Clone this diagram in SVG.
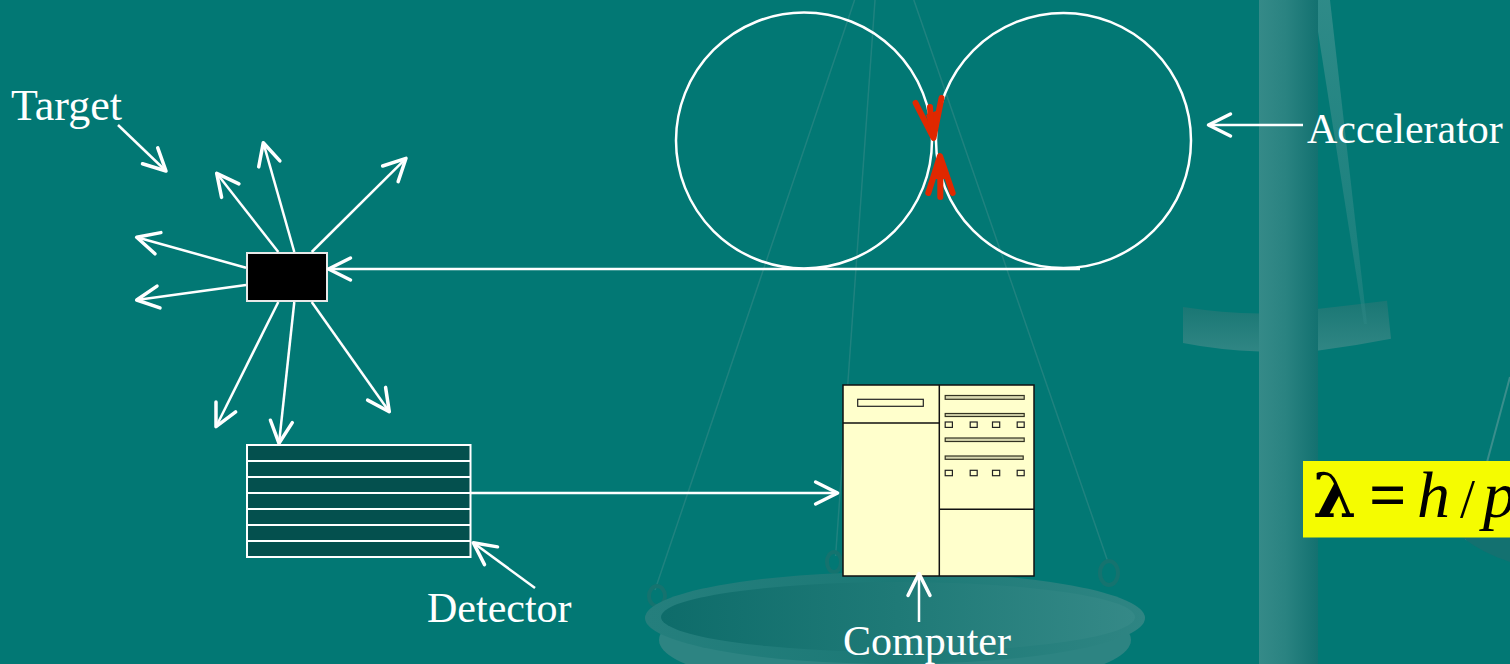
<svg xmlns="http://www.w3.org/2000/svg" width="1510" height="664" viewBox="0 0 1510 664">
  <style>
    .lbl { font-family: "Liberation Serif", "Times New Roman", serif; font-size: 42px; fill: #ffffff; }
    .ring { fill: none; stroke: #ffffff; stroke-width: 2.5; }
    .wire { fill: none; stroke: #ffffff; stroke-width: 2.5; }
    .red { fill: none; stroke: #e02800; stroke-width: 6; stroke-linecap: round; stroke-linejoin: round; }
    .rope { fill: none; stroke: #2a8683; stroke-opacity: 0.75; stroke-width: 1.5; }
    .hook { fill: none; stroke: #15736f; stroke-width: 4; }
    .pc { fill: #ffffcc; stroke: #111111; stroke-width: 1.5; }
    .pcline { stroke: #111111; stroke-width: 1.5; }
    .bar { fill: #d8d8b0; stroke: #333322; stroke-width: 1.2; }
    .key { fill: #ffffcc; stroke: #222222; stroke-width: 1.2; }
    .math { font-family: "Liberation Serif", "Times New Roman", serif; font-size: 66px; fill: #000000; }
  </style>
  <defs>
    <marker id="ah" markerUnits="userSpaceOnUse" markerWidth="40" markerHeight="40" viewBox="-30 -20 40 40" refX="0" refY="0" orient="auto" overflow="visible">
      <path d="M-22,-11 L0,0 L-22,11" fill="none" stroke="#ffffff" stroke-width="3.5" stroke-linecap="round" stroke-linejoin="round"/>
    </marker>
    <linearGradient id="pillarG" x1="0" y1="0" x2="1" y2="0">
      <stop offset="0" stop-color="#358a88"/>
      <stop offset="0.45" stop-color="#2a8381"/>
      <stop offset="1" stop-color="#137170"/>
    </linearGradient>
    <linearGradient id="beamG" x1="0" y1="0" x2="0" y2="1">
      <stop offset="0" stop-color="#1a7774"/>
      <stop offset="1" stop-color="#308684"/>
    </linearGradient>
    <linearGradient id="ropeG" x1="0" y1="0" x2="0" y2="1">
      <stop offset="0" stop-color="#3a8f8d" stop-opacity="0.8"/>
      <stop offset="1" stop-color="#2c8684" stop-opacity="0.5"/>
    </linearGradient>
    <linearGradient id="panInner" x1="0" y1="0" x2="1" y2="0">
      <stop offset="0" stop-color="#0e6c6a"/>
      <stop offset="0.5" stop-color="#1f7a77"/>
      <stop offset="1" stop-color="#358987"/>
    </linearGradient>
    <linearGradient id="panRim" x1="0" y1="0" x2="1" y2="0">
      <stop offset="0" stop-color="#257f7d"/>
      <stop offset="0.5" stop-color="#1c7976"/>
      <stop offset="1" stop-color="#2f8583"/>
    </linearGradient>
  </defs>

  <!-- backdrop: teal field with a faint balance scale -->
  <g id="backdrop">
    <rect x="0" y="0" width="1510" height="664" fill="#027874"/>
    <!-- hanging cords of the left pan -->
    <line class="rope" x1="854.6" y1="0" x2="655" y2="590"/>
    <line class="rope" x1="875" y1="0" x2="835.6" y2="556"/>
    <line class="rope" x1="913.8" y1="0" x2="1108" y2="562"/>
    <!-- pan hooks -->
    <ellipse class="hook" cx="657" cy="596" rx="8" ry="10"/>
    <ellipse class="hook" cx="834" cy="562" rx="7" ry="10"/>
    <ellipse class="hook" cx="1109" cy="573" rx="9" ry="12"/>
    <!-- left pan -->
    <ellipse cx="895" cy="640" rx="236" ry="52" fill="#2d8482"/>
    <ellipse cx="895" cy="618" rx="250" ry="46" fill="url(#panRim)"/>
    <ellipse cx="898" cy="617" rx="237" ry="35" fill="url(#panInner)"/>
    <!-- beam -->
    <path d="M1183,307 Q1222,313 1260,313.5 L1260,351.5 Q1218,350 1183,343 Z" fill="url(#beamG)"/>
    <path d="M1317,309 Q1352,305 1387,300.7 L1391,338.8 Q1355,346 1317,350.7 Z" fill="url(#beamG)"/>
    <!-- cord of the right pan -->
    <polygon points="1313,0 1330,0 1367,324 1364,324" fill="url(#ropeG)"/>
    <!-- pillar -->
    <rect x="1259" y="0" width="59" height="664" fill="url(#pillarG)"/>
    <line x1="1510" y1="377" x2="1466" y2="540" stroke="#3a8e8c" stroke-width="2"/>
    <path d="M1462,537 L1510,537 L1510,562 Q1482,553 1462,537 Z" fill="#137170"/>
  </g>

  <!-- collider rings -->
  <g id="accelerator">
    <circle class="ring" cx="804" cy="140.5" r="128"/>
    <circle class="ring" cx="1063.5" cy="140.5" r="127.5"/>
    <!-- colliding beams -->
    <path class="red" d="M915.6,103 L933.5,138 L941.5,98"/>
    <polygon points="926,115 941,109 933.5,139" fill="#e02800"/>
    <line class="red" x1="930" y1="107" x2="931" y2="124"/>
    <path class="red" d="M928.3,193 L940,156 L952.7,193"/>
    <polygon points="931.5,179 948.5,179 940,155" fill="#e02800"/>
    <line class="red" x1="940.3" y1="172" x2="940.3" y2="197"/>
  </g>

  <g id="target">
    <rect x="247" y="253" width="80" height="48" fill="#000000" stroke="#e8e8e8" stroke-width="2"/>
  </g>

  <g id="detector">
    <rect x="247" y="445" width="223.5" height="112" fill="#04504e" stroke="#ffffff" stroke-width="2"/>
    <g stroke="#ffffff" stroke-width="2">
      <line x1="247" y1="461" x2="470.5" y2="461"/>
      <line x1="247" y1="477" x2="470.5" y2="477"/>
      <line x1="247" y1="493" x2="470.5" y2="493"/>
      <line x1="247" y1="509" x2="470.5" y2="509"/>
      <line x1="247" y1="525" x2="470.5" y2="525"/>
      <line x1="247" y1="541" x2="470.5" y2="541"/>
    </g>
  </g>

  <g id="computer">
    <rect class="pc" x="843" y="385" width="191" height="191"/>
    <line class="pcline" x1="939.3" y1="385" x2="939.3" y2="576"/>
    <line class="pcline" x1="843" y1="423" x2="939.3" y2="423"/>
    <line class="pcline" x1="939.3" y1="509.3" x2="1034" y2="509.3"/>
    <rect class="key" x="857.7" y="399.3" width="65.6" height="7"/>
    <rect class="bar" x="945.2" y="395.5" width="79" height="3.8"/>
    <rect class="bar" x="945.2" y="413.5" width="79" height="3"/>
    <rect class="bar" x="945.2" y="438" width="79" height="3.5"/>
    <rect class="bar" x="945.2" y="456" width="78" height="3.3"/>
    <rect class="key" x="945.2" y="422" width="7.2" height="5.4"/>
    <rect class="key" x="970.2" y="422" width="7" height="5.4"/>
    <rect class="key" x="992.5" y="422" width="7.2" height="5.4"/>
    <rect class="key" x="1017.2" y="422" width="7" height="5.4"/>
    <rect class="key" x="945.2" y="470.3" width="7.2" height="5.4"/>
    <rect class="key" x="970.2" y="470.3" width="7" height="5.4"/>
    <rect class="key" x="992.5" y="470.3" width="7.2" height="5.4"/>
    <rect class="key" x="1017.2" y="470.3" width="7" height="5.4"/>
  </g>

  <g id="formula">
    <rect x="1303" y="461" width="210" height="76.5" fill="#f5fc00"/>
    <text class="math" y="517"><tspan x="1313" font-family="'DejaVu Serif', serif" font-weight="bold" font-size="62">λ</tspan><tspan x="1369" font-weight="bold">=</tspan><tspan x="1417" font-style="italic">h</tspan><tspan x="1460" font-size="54">/</tspan><tspan x="1483" font-style="italic">p</tspan></text>
  </g>

  <g id="labels">
    <text class="lbl" x="11" y="120" style="font-size:44px">Target</text>
    <text class="lbl" x="1307" y="143">Accelerator</text>
    <text class="lbl" x="427" y="622">Detector</text>
    <text class="lbl" x="843" y="655">Computer</text>
  </g>

  <g id="connectors">
    <!-- beam line from the ring to the target -->
    <line class="wire" x1="1080" y1="269" x2="328.5" y2="269" marker-end="url(#ah)"/>
    <!-- scattered particles -->
    <line class="wire" x1="278.3" y1="252" x2="216.7" y2="173.3" marker-end="url(#ah)"/>
    <line class="wire" x1="294.3" y1="252" x2="263.3" y2="142.7" marker-end="url(#ah)"/>
    <line class="wire" x1="311.7" y1="252" x2="406" y2="158.3" marker-end="url(#ah)"/>
    <line class="wire" x1="246" y1="267.7" x2="136.7" y2="237.3" marker-end="url(#ah)"/>
    <line class="wire" x1="246" y1="285" x2="136.7" y2="300" marker-end="url(#ah)"/>
    <line class="wire" x1="278.3" y1="302" x2="216" y2="426.7" marker-end="url(#ah)"/>
    <line class="wire" x1="294.3" y1="302" x2="279" y2="443.3" marker-end="url(#ah)"/>
    <line class="wire" x1="311.7" y1="302" x2="389.3" y2="411.7" marker-end="url(#ah)"/>
    <!-- detector to computer -->
    <line class="wire" x1="471" y1="493" x2="837.6" y2="493" marker-end="url(#ah)"/>
    <!-- label pointers -->
    <line class="wire" x1="118" y1="125" x2="166" y2="171" marker-end="url(#ah)"/>
    <line class="wire" x1="1303" y1="125" x2="1208.5" y2="125" marker-end="url(#ah)"/>
    <line class="wire" x1="535" y1="588" x2="473.3" y2="542.7" marker-end="url(#ah)"/>
    <line class="wire" x1="919" y1="622" x2="919" y2="573.5" marker-end="url(#ah)"/>
  </g>
</svg>
